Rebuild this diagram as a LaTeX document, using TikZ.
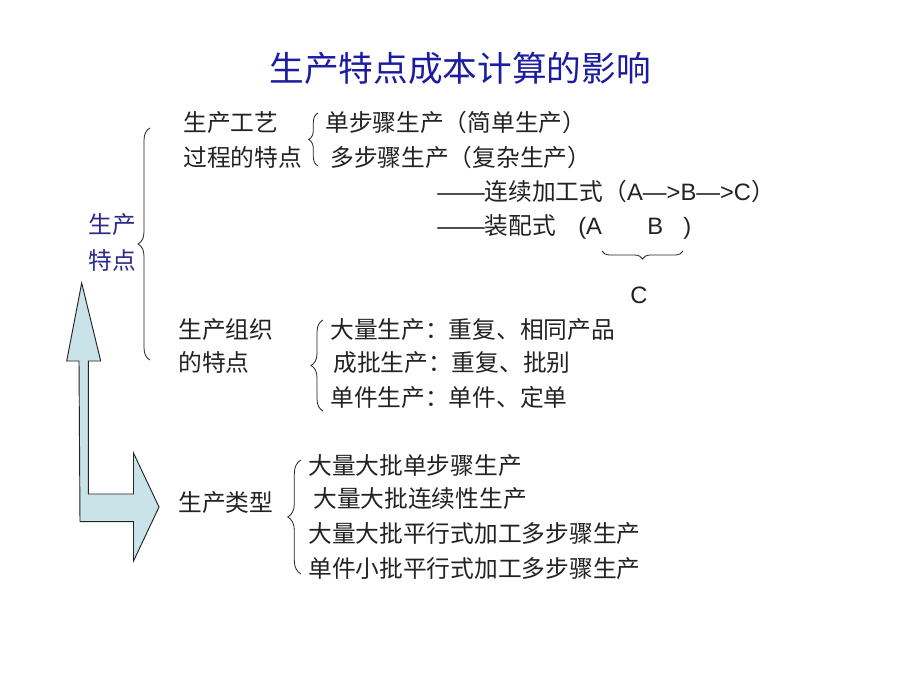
\documentclass[tikz,border=0pt]{standalone}
\usepackage{fontspec}
\setmainfont{Noto Sans CJK SC}
\newfontfamily\latin{Liberation Sans}
\usetikzlibrary{decorations.pathreplacing}
\definecolor{titleblue}{HTML}{1C1CA0}
\definecolor{labelblue}{HTML}{2A2A8C}
\definecolor{arrowfill}{HTML}{CAE3E8}
\definecolor{inkgray}{HTML}{222222}

\begin{document}
\begin{tikzpicture}[
		x=0.75pt, y=-0.75pt,
		% 正文文字
		txt/.style={anchor=west, inner sep=0pt, text=inkgray,
			font=\fontsize{17.8pt}{21pt}\selectfont},
		% 西文字母（基线对齐）
		lat/.style={anchor=base west, inner sep=0pt, text=inkgray,
			font=\latin\fontsize{17.8pt}{21pt}\selectfont},
		% 花括号
		curly/.style={decorate, decoration={brace, amplitude=#1}, draw=inkgray, line width=0.6pt},
		curly/.default=8
		]
		\useasboundingbox (0,0) rectangle (920,690);
		
		% ----- 1. 标题 -----
		\node[font=\fontsize{26pt}{30pt}\selectfont, text=titleblue] (title) at (460,68) {生产特点成本计算的影响};
		
		% ----- 2. 左侧双向箭头 -----
		\draw[fill=arrowfill, draw=inkgray, line width=0.7pt, line join=miter]
			(81.7,283) -- (100.7,361) -- (88.3,361) -- (88.3,494) -- (133.5,494)
			-- (133.5,453) -- (159,507) -- (133.5,561) -- (133.5,521.7)
			-- (80,521.7) -- (79,361) -- (66.7,361) -- cycle;
		
		% ----- 3. 生产特点 -----
		\node[txt, text=labelblue] (pa) at (88,225) {生产};
		\node[txt, text=labelblue] (pb) at (88,260) {特点};
		\coordinate (bigtop) at (150,128);
		\coordinate (bigbot) at (150,360);
		\draw[curly=9] (bigbot) -- (bigtop);
		
		% ----- 4. 工艺过程 -----
		\node[txt] (gy1) at (183,123) {生产工艺};
		\node[txt] (gy2) at (183,157) {过程的特点};
		\coordinate (b1top) at (318,113);
		\coordinate (b1bot) at (318,166);
		\draw[curly=7] (b1bot) -- (b1top);
		\node[txt] (single) at (325,122) {单步骤生产（简单生产）};
		\node[txt] (multi) at (330,157) {多步骤生产（复杂生产）};
		\node[txt] (cont) at (437,191) {{\latin ——}连续加工式（{\latin A—>B—>C}）};
		\node[txt] (asm) at (437,226) {{\latin ——}装配式};
		\node[lat] (asmA) at (578,234) {(A};
		\node[lat] (asmB) at (647,234) {B};
		\node[lat] (asmR) at (683,234) {)};
		\coordinate (ubl) at (602,251);
		\coordinate (ubr) at (683,251);
		\draw[curly=6] (ubr) -- (ubl);
		\node[lat] (asmC) at (630,303) {C};
		
		% ----- 5. 生产组织 -----
		\node[txt] (zz1) at (178,330) {生产组织};
		\node[txt] (zz2) at (178,362) {的特点};
		\coordinate (b2top) at (323,320);
		\coordinate (b2bot) at (323,411);
		\draw[curly=9] (b2bot) -- (b2top);
		\node[txt] (mass) at (330,330) {大量生产：重复、相同产品};
		\node[txt] (batch) at (333,363) {成批生产：重复、批别};
		\node[txt] (unit) at (330,397) {单件生产：单件、定单};
		
		% ----- 6. 生产类型 -----
		\node[txt] (lx) at (178,503) {生产类型};
		\coordinate (b3top) at (301,460);
		\coordinate (b3bot) at (301,574);
		\draw[curly=10] (b3bot) -- (b3top);
		\node[txt] (t1) at (308,466) {大量大批单步骤生产};
		\node[txt] (t2) at (313,499) {大量大批连续性生产};
		\node[txt] (t3) at (308,534) {大量大批平行式加工多步骤生产};
		\node[txt] (t4) at (308,569) {单件小批平行式加工多步骤生产};
		
	\end{tikzpicture}
\end{document}
